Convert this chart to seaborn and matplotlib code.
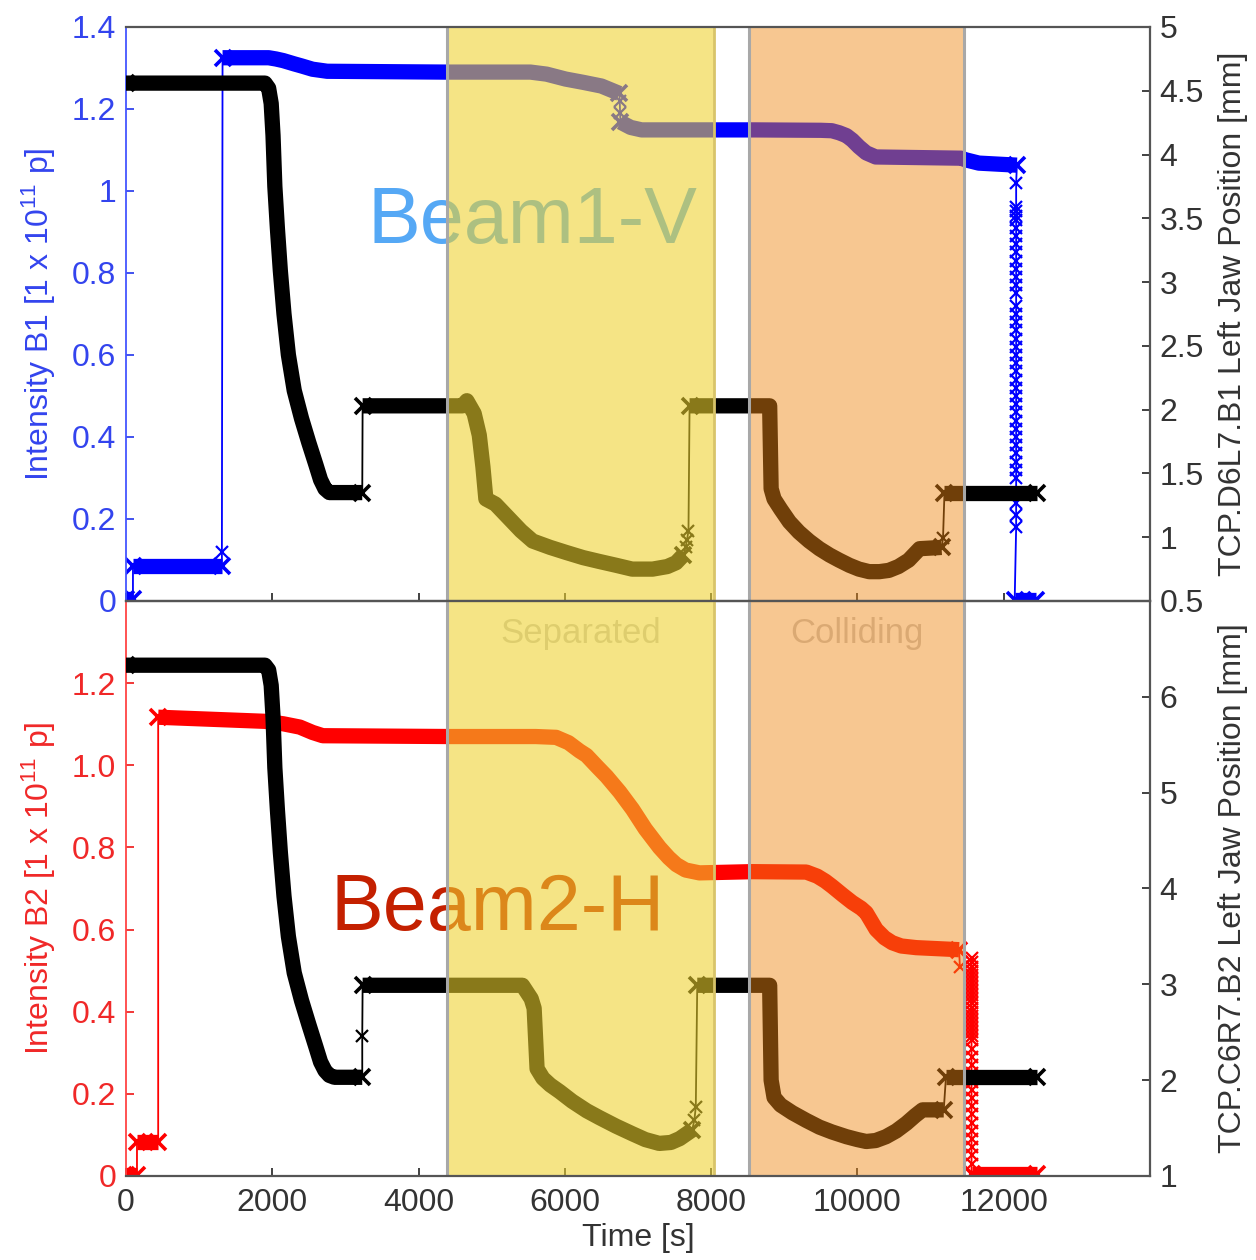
import matplotlib
matplotlib.use("Agg")
import matplotlib.pyplot as plt
import seaborn as sns

sns.set_theme(style="white")
plt.rcParams["font.family"] = ["Liberation Sans", "DejaVu Sans"]
plt.rcParams["mathtext.default"] = "regular"

# ---------------------------------------------------------------- data
# Each series is a sequence of pieces: "band" = densely logged stretch,
# "pts" = sparse logged samples joined only by the thin trace,
# "drop" = fast ramp logged at one timestamp.
B1_INTENSITY = [
    ("band", [0, 95], [0.004, 0.004]),
    ("band", [95, 1311], [0.085, 0.085]),
    ("pts", [1311], [0.12]),
    ("band", [1320, 1950, 2050, 2150, 2300, 2400, 2550, 2750, 4360, 5530, 5750, 6010, 6250,
              6500, 6745],
     [1.325, 1.325, 1.322, 1.318, 1.310, 1.305, 1.297, 1.292, 1.290, 1.290, 1.285, 1.273, 1.265,
      1.256, 1.238]),
    ("pts", [6750, 6755], [1.22, 1.19]),
    ("band", [6760, 6900, 7050, 8600, 9500, 9650, 9750, 9850, 9930, 10020, 10120, 10250, 11420,
              11480, 11660, 12180],
     [1.168, 1.155, 1.149, 1.149, 1.148, 1.147, 1.142, 1.135, 1.124, 1.108, 1.093, 1.083, 1.080,
      1.076, 1.068, 1.063]),
    ("drop", 12170, [1.02, 0.96, 0.95, 0.94, 0.93, 0.91, 0.89, 0.87, 0.85, 0.83, 0.81, 0.79,
                     0.77, 0.75, 0.72, 0.70, 0.68, 0.66, 0.64, 0.62, 0.60, 0.58, 0.56, 0.54,
                     0.52, 0.50, 0.48, 0.46, 0.44, 0.42, 0.40, 0.38, 0.36, 0.34, 0.32, 0.30,
                     0.24, 0.21, 0.18]),
    ("band", [12150, 12440], [0.003, 0.003]),
]

B1_JAW = [
    ("band", [0, 1900, 1950, 1985, 2010, 2035, 2070, 2110, 2160, 2220, 2300, 2400, 2500, 2595,
              2660, 2720, 2780, 2850, 3230],
     [4.56, 4.56, 4.52, 4.40, 4.15, 3.75, 3.42, 3.09, 2.75, 2.43, 2.15, 1.93, 1.74, 1.57,
      1.45, 1.38, 1.35, 1.35, 1.35]),
    ("band", [3235, 4600, 4660, 4760, 4830, 4880, 4920, 5050, 5200, 5400, 5560, 5800, 6020,
              6250, 6470, 6700, 6920, 7200, 7400, 7520, 7620],
     [2.03, 2.03, 2.07, 1.97, 1.80, 1.55, 1.30, 1.26, 1.17, 1.05, 0.97, 0.92, 0.88,
      0.84, 0.81, 0.78, 0.75, 0.75, 0.77, 0.80, 0.86]),
    ("pts", [7650, 7670, 7690], [0.92, 0.98, 1.05]),
    ("band", [7705, 8800, 8820, 8860, 8950, 9070, 9200, 9340, 9480, 9620, 9750, 9890, 10020,
              10160, 10300, 10430, 10560, 10700, 10850, 11150],
     [2.03, 2.03, 1.38, 1.30, 1.22, 1.12, 1.04, 0.97, 0.91, 0.86, 0.82, 0.78, 0.75,
      0.73, 0.73, 0.74, 0.77, 0.82, 0.91, 0.92]),
    ("pts", [11170], [0.99]),
    ("band", [11190, 12460], [1.35, 1.35]),
]

B2_INTENSITY = [
    ("band", [0, 150], [0.003, 0.003]),
    ("band", [150, 440], [0.083, 0.083]),
    ("band", [440, 1900, 2150, 2376, 2550, 2690, 4400, 5600, 5880, 6050, 6200, 6296, 6450,
              6570, 6750, 6925, 7100, 7293, 7420, 7525, 7650, 7840, 8560, 9301, 9450, 9560,
              9656, 9800, 9929, 10050, 10120, 10257, 10370, 10475, 10600, 10803, 11390],
     [1.117, 1.107, 1.101, 1.093, 1.080, 1.072, 1.070, 1.070, 1.068, 1.055, 1.035, 1.024, 0.995,
      0.973, 0.935, 0.893, 0.845, 0.800, 0.775, 0.758, 0.745, 0.738, 0.741, 0.740, 0.730, 0.718,
      0.705, 0.684, 0.666, 0.652, 0.641, 0.600, 0.580, 0.568, 0.560, 0.556, 0.551]),
    ("pts", [11400], [0.51]),
    ("drop", 11560, [0.53, 0.52, 0.51, 0.50, 0.49, 0.48, 0.47, 0.46, 0.45, 0.44, 0.43, 0.42,
                     0.41, 0.40, 0.39, 0.38, 0.37, 0.36, 0.35, 0.34, 0.33, 0.31, 0.29, 0.27,
                     0.25, 0.23, 0.21, 0.19, 0.17, 0.15, 0.13, 0.11, 0.09, 0.07, 0.05, 0.03]),
    ("band", [11560, 12460], [0.004, 0.004]),
]

B2_JAW = [
    ("band", [0, 1900, 1950, 1985, 2010, 2035, 2070, 2110, 2160, 2220, 2300, 2400, 2500, 2595,
              2660, 2720, 2780, 2850, 3230],
     [6.33, 6.33, 6.28, 6.12, 5.79, 5.26, 4.82, 4.38, 3.92, 3.50, 3.12, 2.83, 2.58, 2.35,
      2.19, 2.10, 2.05, 2.03, 2.03]),
    ("pts", [3230], [2.46]),
    ("band", [3235, 5420, 5540, 5580, 5620, 5700, 5800, 5930, 6100, 6300, 6470, 6700, 6925,
              7100, 7290, 7450, 7570, 7740],
     [2.99, 2.99, 2.85, 2.75, 2.12, 2.02, 1.95, 1.88, 1.78, 1.68, 1.61, 1.52, 1.44,
      1.38, 1.34, 1.35, 1.39, 1.48]),
    ("pts", [7770, 7790], [1.58, 1.72]),
    ("band", [7810, 8800, 8820, 8860, 8950, 9110, 9300, 9480, 9650, 9850, 10000, 10120, 10250,
              10390, 10530, 10670, 10790, 10890, 11180],
     [2.99, 2.99, 2.00, 1.82, 1.74, 1.66, 1.58, 1.51, 1.46, 1.41, 1.38, 1.36, 1.37,
      1.41, 1.47, 1.55, 1.63, 1.69, 1.69]),
    ("band", [11210, 12460], [2.03, 2.03]),
]

SEPARATED = (4384, 8044)
COLLIDING = (8522, 11459)

X_TICKS = [0, 2000, 4000, 6000, 8000, 10000, 12000]
X_LABELS = ["0", "2000", "4000", "6000", "8000", "10000", "12000"]
B1_TICKS = [0, 0.2, 0.4, 0.6, 0.8, 1.0, 1.2, 1.4]
B1_LABELS = ["0", "0.2", "0.4", "0.6", "0.8", "1", "1.2", "1.4"]
B2_TICKS = [0, 0.2, 0.4, 0.6, 0.8, 1.0, 1.2]
B2_LABELS = ["0", "0.2", "0.4", "0.6", "0.8", "1.0", "1.2"]
JAW1_TICKS = [0.5, 1, 1.5, 2, 2.5, 3, 3.5, 4, 4.5, 5]
JAW1_LABELS = ["0.5", "1", "1.5", "2", "2.5", "3", "3.5", "4", "4.5", "5"]
JAW2_TICKS = [1, 2, 3, 4, 5, 6]
JAW2_LABELS = ["1", "2", "3", "4", "5", "6"]

# ---------------------------------------------------------------- style
BLUE = "#0000FF"
RED = "#FF0000"
BLACK = "#000000"
AXIS_GREY = "#555555"
TEXT_GREY = "#333333"
FS = 23
BAND_LW = 11


def draw_series(ax, pieces, color):
    """Thin trace through every sample, thick bands over dense logging."""
    all_t, all_v = [], []
    for kind, ts, vs in pieces:
        if kind == "drop":
            ts = [ts] * len(vs)
        all_t += list(ts)
        all_v += list(vs)
    sns.lineplot(x=all_t, y=all_v, ax=ax, color=color, linewidth=1.3,
                 sort=False, estimator=None, legend=False, zorder=2)
    for kind, ts, vs in pieces:
        if kind == "band":
            sns.lineplot(x=ts, y=vs, ax=ax, color=color, linewidth=BAND_LW,
                         sort=False, estimator=None, legend=False, zorder=2,
                         solid_capstyle="butt", solid_joinstyle="round")
            ax.plot([ts[0], ts[-1]], [vs[0], vs[-1]], ls="", marker="x",
                    ms=11, mew=2.6, color=color, zorder=2)
        else:
            if kind == "drop":
                ts = [ts] * len(vs)
            ax.plot(ts, vs, ls="", marker="x", ms=9, mew=1.6, color=color, zorder=2)


def shade(ax):
    ax.axvspan(*SEPARATED, facecolor="#EED22D", alpha=0.58, edgecolor="none", zorder=5)
    ax.axvspan(*COLLIDING, facecolor="#F08815", alpha=0.47, edgecolor="none", zorder=5)
    ax.axvline(SEPARATED[1], color="#D8C46A", lw=2.0, zorder=6)
    for x in (SEPARATED[0], COLLIDING[0], COLLIDING[1]):
        ax.axvline(x, color="#A8A8A8", lw=2.2, zorder=6)


fig = plt.figure(figsize=(12.56, 12.60), dpi=100)
ax_top = fig.add_axes([0.10032, 0.52302, 0.81529, 0.45556])
ax_bot = fig.add_axes([0.10032, 0.06667, 0.81529, 0.45635])
ax_top_r = ax_top.twinx()
ax_bot_r = ax_bot.twinx()

for ax in (ax_top, ax_bot, ax_top_r, ax_bot_r):
    ax.set_xlim(0, 14000)
    ax.set_facecolor("none")
    ax.grid(False)

# lines
draw_series(ax_top, B1_INTENSITY, BLUE)
draw_series(ax_top_r, B1_JAW, BLACK)
draw_series(ax_bot, B2_INTENSITY, RED)
draw_series(ax_bot_r, B2_JAW, BLACK)

# shaded phases on the overlay axes so they tint every trace
shade(ax_top_r)
shade(ax_bot_r)

# big beam labels sit underneath the shading
ax_top.text(3305, 0.873, "Beam1-V", fontsize=57, color="#55A8F5",
            ha="left", va="baseline", zorder=1)
ax_bot.text(2800, 0.60, "Beam2-H", fontsize=57, color="#C42000",
            ha="left", va="baseline", zorder=1)
ax_bot.text(sum(SEPARATED) / 2, 1.32, "Separated", fontsize=25, color="#C8C8C8",
            ha="center", va="center", zorder=1)
ax_bot.text(sum(COLLIDING) / 2, 1.32, "Colliding", fontsize=25, color="#C8C8C8",
            ha="center", va="center", zorder=1)

# axes limits and ticks
ax_top.set_ylim(0, 1.4)
ax_bot.set_ylim(0, 1.4)
ax_top_r.set_ylim(0.5, 5)
ax_bot_r.set_ylim(1, 7)

ax_top.set_yticks(B1_TICKS, B1_LABELS)
ax_bot.set_yticks(B2_TICKS, B2_LABELS)
ax_top_r.set_yticks(JAW1_TICKS, JAW1_LABELS)
ax_bot_r.set_yticks(JAW2_TICKS, JAW2_LABELS)
for ax in (ax_top, ax_bot, ax_top_r, ax_bot_r):
    ax.set_xticks(X_TICKS, X_LABELS)

ax_top.tick_params(axis="x", labelbottom=False)
ax_top_r.tick_params(axis="x", labelbottom=False)
ax_bot_r.tick_params(axis="x", labelbottom=False)
for ax in (ax_top, ax_bot):
    ax.tick_params(axis="x", direction="in", length=6, width=1.3, colors=TEXT_GREY,
                   labelsize=FS, pad=9, bottom=True)

ax_top.tick_params(axis="y", direction="in", length=6, width=1.3, colors="#3344EE",
                   labelsize=FS, pad=7, left=True)
ax_bot.tick_params(axis="y", direction="in", length=6, width=1.3, colors="#F02828",
                   labelsize=FS, pad=7, left=True)
for ax in (ax_top_r, ax_bot_r):
    ax.tick_params(axis="y", direction="in", length=6, width=1.3, colors=TEXT_GREY,
                   labelsize=FS, pad=7, right=True)

# spines
for ax, col in ((ax_top, "#4455FF"), (ax_bot, "#FF4444")):
    for side in ("right", "top", "bottom"):
        ax.spines[side].set_visible(False)
    ax.spines["left"].set_color(col)
    ax.spines["left"].set_linewidth(1.3)
for ax in (ax_top_r, ax_bot_r):
    ax.spines["left"].set_visible(False)
    for side in ("right", "top", "bottom"):
        ax.spines[side].set_color(AXIS_GREY)
        ax.spines[side].set_linewidth(1.6)
        ax.spines[side].set_zorder(7)

# axis labels
ax_top.set_ylabel("Intensity B1 [1 x 10$^{11}$ p]", fontsize=FS, color="#3344EE")
ax_bot.set_ylabel("Intensity B2 [1 x 10$^{11}$ p]", fontsize=FS, color="#F02828")
ax_top_r.set_ylabel("TCP.D6L7.B1 Left Jaw Position [mm]", fontsize=FS, color=TEXT_GREY)
ax_bot_r.set_ylabel("TCP.C6R7.B2 Left Jaw Position [mm]", fontsize=FS, color=TEXT_GREY)
ax_bot.set_xlabel("Time [s]", fontsize=FS, color=TEXT_GREY)
ax_top.yaxis.set_label_coords(-0.066, 0.5)
ax_bot.yaxis.set_label_coords(-0.066, 0.5)
ax_top_r.yaxis.set_label_coords(1.066, 0.5)
ax_bot_r.yaxis.set_label_coords(1.066, 0.5)
ax_bot.xaxis.set_label_coords(0.5, -0.082)

fig.savefig("out.png", dpi=100, facecolor="white")
